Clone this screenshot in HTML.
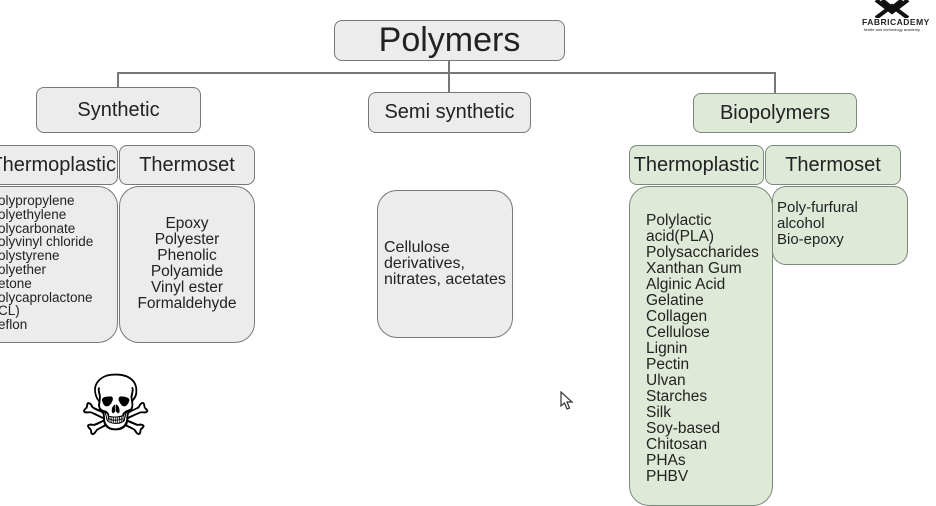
<!DOCTYPE html>
<html><head><meta charset="utf-8"><style>
body{margin:0;width:936px;height:494px;overflow:hidden;background:#fff;position:relative;font-family:"Liberation Sans","DejaVu Sans",sans-serif;color:#222}
.b{position:absolute;box-sizing:border-box;border:1.5px solid #777;background:#ececec;border-radius:8px}
.g{background:#dfe9d8;border-color:#7a8a78}
.c{display:flex;align-items:center;justify-content:center;white-space:nowrap}
.l{position:absolute;background:#777}
.t{position:absolute;font-size:15px;line-height:16px;white-space:nowrap}
</style></head><body>
<div class="l" style="left:118px;top:72px;width:657px;height:2px"></div>
<div class="l" style="left:448px;top:60px;width:2px;height:33px"></div>
<div class="l" style="left:117px;top:72px;width:2px;height:16px"></div>
<div class="l" style="left:774px;top:72px;width:2px;height:22px"></div>

<div class="b c" style="left:334px;top:20px;width:231px;height:41px;font-size:34px">Polymers</div>
<div class="b c" style="left:36px;top:87px;width:165px;height:46px;font-size:20px">Synthetic</div>
<div class="b c" style="left:368px;top:92px;width:163px;height:41px;font-size:20px">Semi synthetic</div>
<div class="b c g" style="left:693px;top:93px;width:164px;height:40px;font-size:20px">Biopolymers</div>

<div class="b c" style="left:-20px;top:145px;width:138px;height:40px;font-size:20px;justify-content:flex-end;padding-right:1px;overflow:hidden">Thermoplastic</div>
<div class="b c" style="left:119px;top:145px;width:136px;height:40px;font-size:20px">Thermoset</div>
<div class="b" style="left:-20px;top:186px;width:138px;height:157px;border-radius:20px"></div>
<div class="t" style="left:-2px;top:194px;font-size:13.5px;line-height:13.8px">olypropylene<br>olyethylene<br>olycarbonate<br>olyvinyl chloride<br>olystyrene<br>olyether<br>etone<br>olycaprolactone<br>CL)<br>eflon</div>
<div class="b" style="left:119px;top:186px;width:136px;height:157px;border-radius:20px"></div>
<div class="t" style="left:119px;width:136px;top:216px;text-align:center;font-size:15.5px;line-height:16px">Epoxy<br>Polyester<br>Phenolic<br>Polyamide<br>Vinyl ester<br>Formaldehyde</div>

<div class="b" style="left:377px;top:190px;width:136px;height:148px;border-radius:20px"></div>
<div class="t" style="left:384px;top:240px;font-size:16px">Cellulose<br>derivatives,<br>nitrates, acetates</div>

<div class="b c g" style="left:629px;top:145px;width:135px;height:40px;font-size:20px">Thermoplastic</div>
<div class="b c g" style="left:765px;top:145px;width:136px;height:40px;font-size:20px">Thermoset</div>
<div class="b g" style="left:629px;top:186px;width:144px;height:320px;border-radius:20px"></div>
<div class="t" style="left:646px;top:213px;font-size:15.5px;line-height:16px">Polylactic<br>acid(PLA)<br>Polysaccharides<br>Xanthan Gum<br>Alginic Acid<br>Gelatine<br>Collagen<br>Cellulose<br>Lignin<br>Pectin<br>Ulvan<br>Starches<br>Silk<br>Soy-based<br>Chitosan<br>PHAs<br>PHBV</div>
<div class="b g" style="left:772px;top:186px;width:136px;height:79px;border-radius:14px"></div>
<div class="t" style="left:777px;top:200px">Poly-furfural<br>alcohol<br>Bio-epoxy</div>

<div style="position:absolute;left:78px;top:356px;font-size:84px;line-height:100px;font-family:'DejaVu Sans',sans-serif;color:#000">☠</div>
<svg style="position:absolute;left:560px;top:391px" width="14" height="20"><path d="M1 1 L1 15 L4.5 12 L7 18 L9.5 17 L7 11 L12 11 Z" fill="#fff" stroke="#333" stroke-width="1.2"/></svg>

<svg style="position:absolute;left:872px;top:0" width="40" height="18"><path d="M4 0 L20 12 L36 0 M10 0 L20 8 L30 0 M4 18 L20 6 L36 18" stroke="#111" stroke-width="4" fill="none"/></svg>
<div style="position:absolute;left:862px;top:17px;font-size:8.5px;font-weight:bold;letter-spacing:0.5px">FABRICADEMY</div>
<div style="position:absolute;left:864px;top:27px;font-size:4px">textile and technology academy</div>
</body></html>
